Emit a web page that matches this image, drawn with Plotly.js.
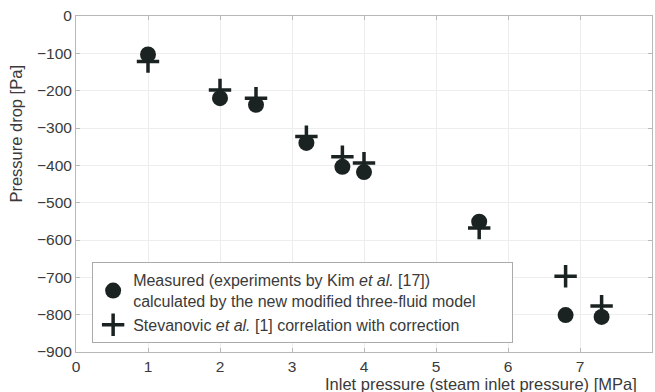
<!DOCTYPE html>
<html><head><meta charset="utf-8">
<script src="https://cdn.plot.ly/plotly-3.0.1.min.js"></script>
<style>html,body{margin:0;padding:0;background:#fff}#c{width:655px;height:392px}</style>
</head><body><div id="c"></div>
<script>
const pressure = [1.0, 2.0, 2.5, 3.2, 3.7, 4.0, 5.6, 6.8, 7.3];
const measured = [-103, -220, -238, -340, -404, -418, -551, -801, -806];
const stevanovic = [-122, -198, -220, -323, -377, -394, -568, -697, -777];
const xTicks = [0, 1, 2, 3, 4, 5, 6, 7, 8];
const yTicks = [0, -100, -200, -300, -400, -500, -600, -700, -800, -900];

const ink = '#1b2222';
const font = 'Liberation Sans, Arial, Helvetica, sans-serif';
const pad = '\u00a0'.repeat(7);
const traces = [
  {x: pressure, y: stevanovic, mode: 'markers', type: 'scatter', legendrank: 2,
   name: 'Stevanovic <i>et al.</i> [1] correlation with correction',
   marker: {symbol: 'cross-thin', size: 16, color: ink, line: {width: 3.5, color: ink}}},
  {x: pressure, y: measured, mode: 'markers', type: 'scatter', legendrank: 1,
   name: 'Measured (experiments by Kim <i>et al.</i> [17])<br>calculated by the new modified three-fluid model' + pad,
   marker: {symbol: 'circle', size: 16, color: ink}}
];
const axisCommon = {
  showline: true, linecolor: '#b8b8b8', linewidth: 1, mirror: 'ticks',
  ticks: 'inside', ticklen: 4, tickcolor: '#b8b8b8',
  showgrid: true, gridcolor: '#ededed', gridwidth: 1, zeroline: false,
  tickfont: {family: font, size: 15.5, color: '#3a3a3a'}
};
const layout = {
  width: 655, height: 392,
  margin: {l: 76, r: 3, t: 16, b: 40},
  paper_bgcolor: '#fff', plot_bgcolor: '#fff',
  showlegend: true,
  legend: {x: 0.028, y: 0.267, xanchor: 'left', yanchor: 'top',
    bgcolor: '#fff', bordercolor: '#aaa', borderwidth: 1,
    font: {family: font, size: 16, color: '#3a3a3a'},
    tracegroupgap: 0, itemwidth: 30},
  xaxis: Object.assign({}, axisCommon, {range: [0, 8], tickvals: xTicks, ticktext: xTicks.map(String)}),
  yaxis: Object.assign({}, axisCommon, {range: [-900, 0], tickvals: yTicks}),
  annotations: [
    {text: 'Inlet pressure (steam inlet pressure) [MPa]', xref: 'paper', yref: 'paper',
     x: 1, y: 0, xanchor: 'right', yanchor: 'top', yshift: -22, xshift: -14, showarrow: false,
     borderpad: 0,
     font: {family: font, size: 16.5, color: '#3a3a3a'}},
    {text: 'Pressure drop [Pa]', xref: 'paper', yref: 'paper', textangle: -90,
     x: 0, y: 0.65, xanchor: 'center', yanchor: 'middle', xshift: -60, showarrow: false,
     font: {family: font, size: 16.5, color: '#3a3a3a'}}
  ]
};
Plotly.newPlot('c', traces, layout, {displayModeBar: false, staticPlot: true});
</script></body></html>
